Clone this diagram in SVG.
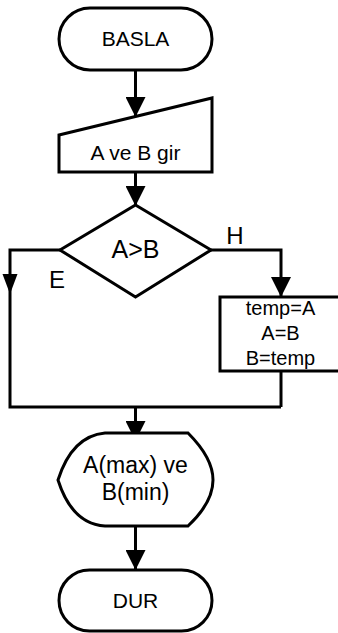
<svg xmlns="http://www.w3.org/2000/svg" width="338" height="633" viewBox="0 0 338 633">
<style>
.shape{fill:#fff;stroke:#000;stroke-width:3;stroke-linejoin:miter}
.conn{fill:none;stroke:#000;stroke-width:3}
.head{fill:#000;stroke:none}
text{font-family:"Liberation Sans",Arial,sans-serif;fill:#000;text-anchor:middle}
</style>
<defs>
<marker id="arr" markerUnits="userSpaceOnUse" markerWidth="20" markerHeight="20" viewBox="0 0 20 20" refX="20" refY="10" orient="auto">
<path d="M0,0 L20,10 L0,20 z" fill="#000"/>
</marker>
</defs>
<g id="connectors">
<path class="conn" d="M135.5,70 V117" marker-end="url(#arr)"/>
<path class="conn" d="M135.5,172 V206" marker-end="url(#arr)"/>
<path class="conn" d="M60,250 H10 V407 H281"/>
<polygon class="head" points="2.5,274 17.5,274 10,294"/>
<path class="conn" d="M211,250 H281 V297" marker-end="url(#arr)"/>
<path class="conn" d="M281,371 V407"/>
<path class="conn" d="M135.5,407 V441" marker-end="url(#arr)"/>
<path class="conn" d="M135.5,526 V570" marker-end="url(#arr)"/>
<text x="235" y="244" font-size="24">H</text>
<text x="57" y="288" font-size="24">E</text>
</g>
<g id="basla">
<rect class="shape" x="59" y="8" width="153" height="62" rx="31"/>
<text x="135.5" y="46" font-size="21">BASLA</text>
</g>
<g id="input">
<polygon class="shape" points="59,135 212,98 212,172 59,172"/>
<text x="135.5" y="160" font-size="21">A ve B gir</text>
</g>
<g id="decision">
<polygon class="shape" points="135.5,205 211,250 135.5,297 60,250"/>
<text x="135.5" y="258" font-size="25">A&gt;B</text>
</g>
<g id="swap">
<rect class="shape" x="220" y="297" width="122" height="74"/>
<text x="280.5" y="315" font-size="20">temp=A</text>
<text x="280.5" y="340" font-size="20">A=B</text>
<text x="280.5" y="365" font-size="20">B=temp</text>
</g>
<g id="display">
<path class="shape" d="M58,480 Q72,436 105,433 L188,433 C204,449 213,465 213,480 C213,496 204,511 188,526 L105,526 Q72,524 58,480 Z"/>
<text x="135.5" y="473" font-size="23">A(max) ve</text>
<text x="135.5" y="500" font-size="23">B(min)</text>
</g>
<g id="dur">
<rect class="shape" x="59" y="570" width="153" height="61" rx="30.5"/>
<text x="135.5" y="608" font-size="21">DUR</text>
</g>
</svg>
